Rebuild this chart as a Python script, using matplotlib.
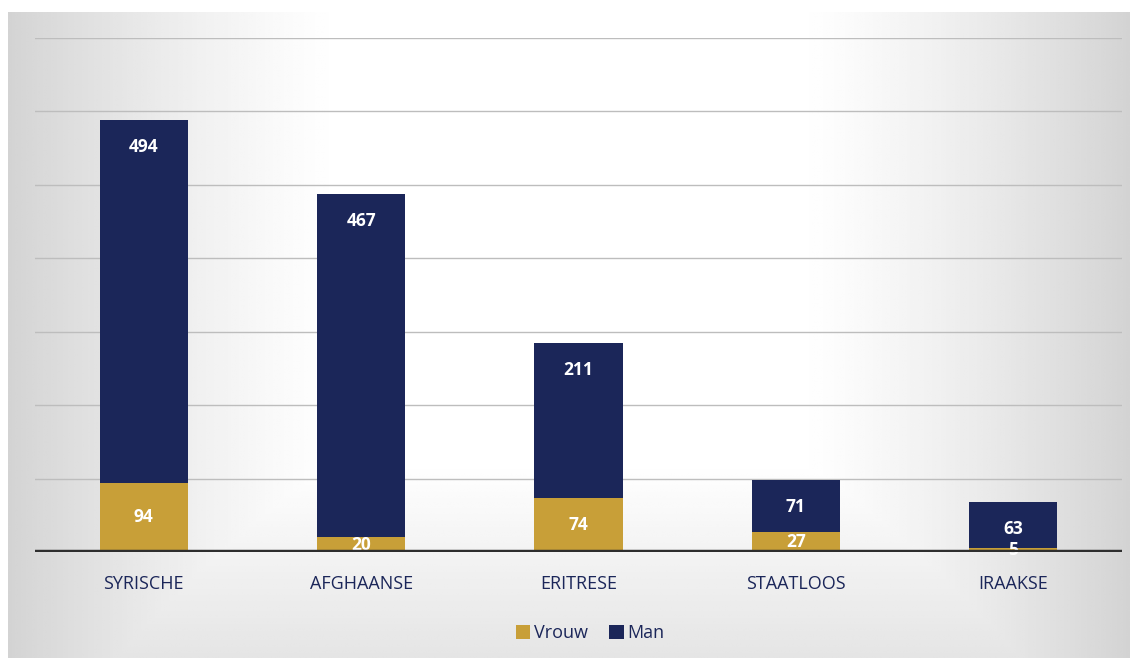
import matplotlib.pyplot as plt
import numpy as np

plt.rcParams['font.family'] = ['Open Sans', 'DejaVu Sans']

categories = ['SYRISCHE', 'AFGHAANSE', 'ERITRESE', 'STAATLOOS', 'IRAAKSE']
vrouw = [94, 20, 74, 27, 5]
man = [494, 467, 211, 71, 63]

gold = '#c89f38'
navy = '#1b2659'

W, H = 1135, 658
fig = plt.figure(figsize=(W / 100, H / 100), dpi=100)

# grey scanned panel behind the chart
bg = fig.add_axes([8 / W, 0, (1130 - 8) / W, (H - 12) / H])
xx = np.linspace(0, 1, 400)
yy = np.linspace(0, 1, 200)
gx = np.clip(1 - np.minimum(xx / 0.3, (1 - xx) / 0.3), 0, 1) ** 1.3
gy = np.clip(1 - yy / 0.3, 0, 1)
shade = 1 - 0.17 * np.maximum(gx[None, :], 0.6 * gy[:, None])
bg.imshow(shade, cmap='gray', vmin=0, vmax=1, aspect='auto', origin='lower',
          extent=[0, 1, 0, 1])
bg.axis('off')

ax = fig.add_axes([35 / W, 106 / H, (1122 - 35) / W, (552 - 38) / H])
ax.patch.set_alpha(0)
x = np.arange(len(categories))
b1 = ax.bar(x, vrouw, width=0.405, color=gold, label='Vrouw', zorder=3)
b2 = ax.bar(x, man, width=0.405, bottom=vrouw, color=navy, label='Man', zorder=3)

ax.bar_label(b1, label_type='center', color='white', fontsize=12.5,
             fontweight='bold', zorder=4)
for r, v in zip(b2, man):
    ax.annotate(str(v), (r.get_x() + r.get_width() / 2, r.get_y() + r.get_height()),
                xytext=(0, -19.5), textcoords='offset points', ha='center',
                va='center', color='white', fontsize=12.5, fontweight='bold')

ax.set_xlim(-0.5, 4.5)
ax.set_ylim(0, 700)
ax.set_yticks(range(100, 701, 100))
ax.grid(axis='y', color='#bdbdbd', linewidth=1, zorder=0)
ax.axhline(0, color='#2e2e2e', linewidth=3.2, zorder=5)
ax.tick_params(left=False, bottom=False, labelleft=False)
ax.set_xticks(x)
ax.set_xticklabels(categories, fontsize=13, color=navy, fontweight='medium')
ax.tick_params(axis='x', pad=13)
for s in ax.spines.values():
    s.set_visible(False)

fig.legend(loc='center', bbox_to_anchor=(590 / W, 1 - 633 / H), ncol=2,
           frameon=False, fontsize=13, handlelength=0.8, handleheight=0.8,
           handletextpad=0.2, columnspacing=1.2, labelcolor=navy)

fig.savefig('out.png', dpi=100)
